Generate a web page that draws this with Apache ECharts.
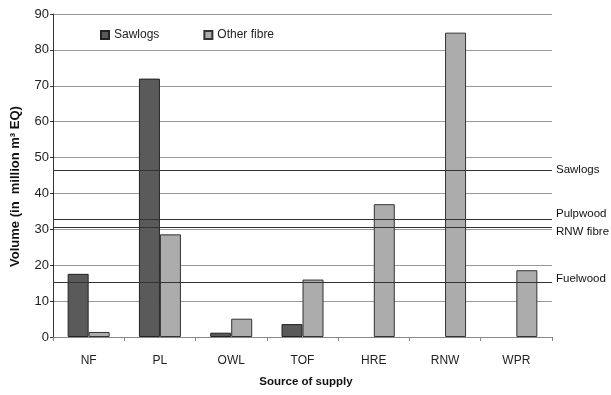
<!DOCTYPE html>
<html><head><meta charset="utf-8">
<script src="https://cdn.jsdelivr.net/npm/echarts@6/dist/echarts.min.js"></script>
<style>html,body{margin:0;padding:0;background:#fff}#c{width:611px;height:395px}</style>
</head><body><div id="c"></div>
<script>
var categories = ['NF', 'PL', 'OWL', 'TOF', 'HRE', 'RNW', 'WPR'];
var sawlogs = [17.6, 72, 1.2, 3.6, null, null, null];
var otherFibre = [1.4, 28.6, 5.1, 16, 37, 84.8, 18.6];
var refNames = ['Sawlogs', 'Pulpwood', 'RNW fibre', 'Fuelwood'];
var refValues = [46.6, 32.8, 30.5, 15.3];
var yTicks = [0, 90, 10];

var font = 'Liberation Sans';
var labelShift = { 'Sawlogs': [0, 0], 'Pulpwood': [0, -5], 'RNW fibre': [0, 4], 'Fuelwood': [0, -3] };
var chart = echarts.init(document.getElementById('c'));
var markData = refNames.map(function (n, i) {
  return { name: n, yAxis: refValues[i], label: { offset: labelShift[n] } };
});
chart.setOption({
  animation: false,
  textStyle: { fontFamily: font },
  grid: { left: 53, right: 59, top: 14, bottom: 58 },
  legend: {
    left: 100, top: 29, padding: 0, itemWidth: 8, itemHeight: 8, itemGap: 44,
    textStyle: { fontFamily: font, fontSize: 12, color: '#222' },
    data: [{ name: 'Sawlogs', icon: 'rect' }, { name: 'Other fibre', icon: 'rect' }]
  },
  xAxis: {
    type: 'category', data: categories,
    name: 'Source of supply', nameLocation: 'middle', nameGap: 39,
    nameTextStyle: { fontFamily: font, fontWeight: 'bold', fontSize: 11.5, color: '#111', padding: [0, 0, 0, 7] },
    axisLine: { lineStyle: { color: '#888', width: 1 } },
    axisTick: { show: true, length: 4, lineStyle: { color: '#888' } },
    axisLabel: { margin: 18, fontSize: 12, color: '#222', fontFamily: font }
  },
  yAxis: {
    type: 'value', min: yTicks[0], max: yTicks[1], interval: yTicks[2],
    name: 'Volume (in  million m\u00b3 EQ)', nameLocation: 'middle', nameGap: 31,
    nameTextStyle: { fontFamily: font, fontWeight: 'bold', fontSize: 13, color: '#111', padding: [0, 22, 0, 0] },
    axisLine: { show: true, lineStyle: { color: '#333' } },
    axisTick: { show: true, length: 3, lineStyle: { color: '#333' } },
    axisLabel: { fontSize: 13, color: '#222', margin: 4, fontFamily: font },
    splitLine: { lineStyle: { color: '#999', width: 1 } }
  },
  series: [
    {
      name: 'Sawlogs', type: 'bar', data: sawlogs, barWidth: 21, barGap: '0%',
      itemStyle: { color: '#5a5a5a', borderColor: '#222', borderWidth: 1 },
      markLine: {
        silent: true, symbol: 'none',
        lineStyle: { color: '#333', type: 'solid', width: 1.2 },
        label: { position: 'end', formatter: '{b}', fontSize: 11.5, color: '#111', fontFamily: font, distance: 4 },
        data: markData
      },
      z: 3
    },
    {
      name: 'Other fibre', type: 'bar', data: otherFibre, barWidth: 21,
      itemStyle: { color: '#acacac', borderColor: '#333', borderWidth: 1 },
      z: 3
    }
  ]
});
</script></body></html>
